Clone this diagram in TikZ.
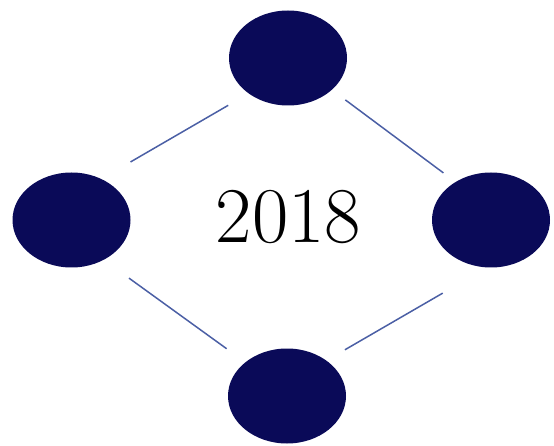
\documentclass[tikz,border=0pt]{standalone}
\usepackage{tikz}
\usetikzlibrary{shapes.geometric}
\definecolor{discnavy}{RGB}{10,10,88}
\definecolor{linkblue}{RGB}{75,95,165}

\begin{document}
\begin{tikzpicture}[x=1pt,y=-1pt,
	disc/.style={ellipse, fill=discnavy, minimum width=118pt, minimum height=95pt, inner sep=0pt},
	link/.style={draw=linkblue, line width=1.5pt}]
			\useasboundingbox (0,0) rectangle (554,446);
			\node [disc] (top) at (288,58) {};
			\node [disc] (left) at (71.5,220) {};
			\node [disc] (right) at (491,220) {};
			\node [disc] (bottom) at (287,396) {};
			
			\node (year) at (288.5,217) {\fontsize{79}{79}\selectfont 2018};
			
			\draw [link, shorten <=23.5pt, shorten >=33.7pt] (top.222) -- (left.54);
			\draw [link, shorten <=16.7pt, shorten >=15pt] (top.324) -- (right.133);
			\draw [link, shorten <=31pt, shorten >=23pt] (left.309) -- (bottom.141);
			\draw [link, shorten <=21.3pt, shorten >=51pt] (bottom.42) -- (right.265);
\end{tikzpicture}
\end{document}
